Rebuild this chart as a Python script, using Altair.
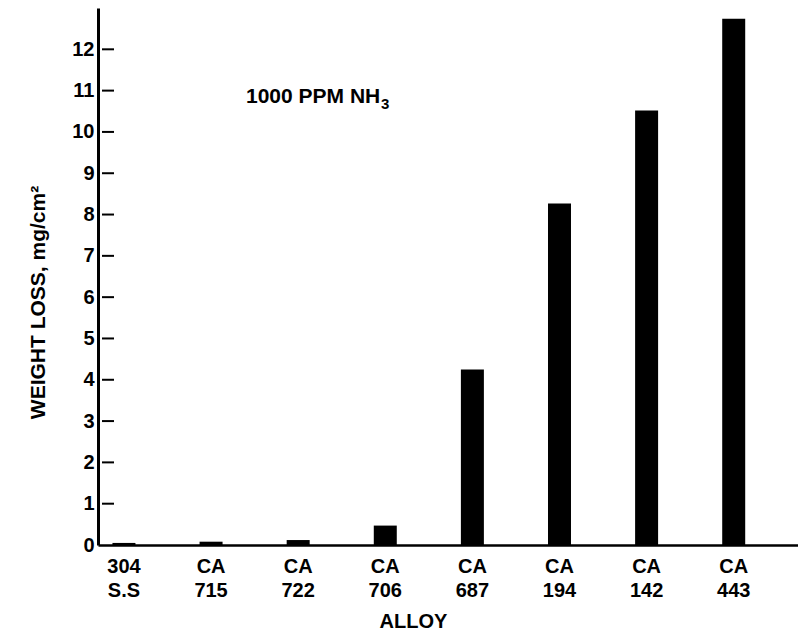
import altair as alt
import pandas as pd

# ---- data ----
alloys = ["304 S.S", "CA 715", "CA 722", "CA 706", "CA 687", "CA 194", "CA 142", "CA 443"]
weight_loss = [0.05, 0.08, 0.12, 0.47, 4.25, 8.27, 10.52, 12.74]
y_tick_values = [1, 2, 3, 4, 5, 6, 7, 8, 9, 10, 11, 12]
y_label_values = [0, 1, 2, 3, 4, 5, 6, 7, 8, 9, 10, 11, 12]
annotation_main = ["1000 PPM NH"]
annotation_sub = ["3"]

FONT = "Liberation Sans"

bars_df = pd.DataFrame({"alloy": alloys, "loss": weight_loss})
ticks_df = pd.DataFrame({"loss": y_tick_values})
ann_df = pd.DataFrame({"t": annotation_main})
sub_df = pd.DataFrame({"t": annotation_sub})

y_scale = alt.Scale(domain=[0, 13], nice=False, zero=True)
y_axis = alt.Axis(
    values=y_label_values,
    title="WEIGHT LOSS, mg/cm\u00b2",
    ticks=False,
    grid=False,
    domainColor="black",
    domainWidth=3,
    labelFont=FONT,
    labelFontSize=20,
    labelFontWeight="bold",
    labelColor="black",
    labelPadding=4,
    titleFont=FONT,
    titleFontSize=21,
    titleFontWeight="bold",
    titleColor="black",
    titleAngle=270,
    titleAlign="center",
    titleBaseline="middle",
    titleX=-60,
    titleY=294,
)

x_enc = alt.X(
    "alloy:N",
    sort=alloys,
    scale=alt.Scale(paddingInner=0.736, paddingOuter=0.386, align=0.215),
    axis=alt.Axis(
        title="ALLOY",
        labelAngle=0,
        labelExpr="split(datum.label, ' ')",
        ticks=False,
        domainColor="black",
        domainWidth=2.5,
        labelFont=FONT,
        labelFontSize=20,
        labelFontWeight="bold",
        labelColor="black",
        labelPadding=11,
        labelLineHeight=24,
        titleFont=FONT,
        titleFontSize=20,
        titleFontWeight="bold",
        titleColor="black",
        titleX=315,
        titleY=82,
        titleAlign="center",
        titleBaseline="alphabetic",
    ),
)

bars = alt.Chart(bars_df).mark_bar(color="black").encode(
    x=x_enc,
    y=alt.Y("loss:Q", scale=y_scale, axis=y_axis),
)

tick_marks = alt.Chart(ticks_df).mark_rule(color="black", strokeWidth=2).encode(
    y=alt.Y("loss:Q", scale=y_scale, axis=y_axis),
    x=alt.value(4),
    x2=alt.value(16),
)

ann = alt.Chart(ann_df).mark_text(
    align="left", baseline="alphabetic", font=FONT, fontSize=21,
    fontWeight="bold", color="black"
).encode(text="t:N", x=alt.value(148), y=alt.value(95))

ann_sub = alt.Chart(sub_df).mark_text(
    align="left", baseline="alphabetic", font=FONT, fontSize=15,
    fontWeight="bold", color="black"
).encode(text="t:N", x=alt.value(283), y=alt.value(101))

chart = (
    alt.layer(bars, tick_marks, ann, ann_sub)
    .properties(
        width=700,
        height=537,
        autosize=alt.AutoSizeParams(type="none"),
        padding={"left": 90, "top": 0, "right": 0, "bottom": 86},
        background="white",
    )
    .configure_view(stroke=None)
)

chart.save("out.html", embed_options={"renderer": "svg", "actions": False})
